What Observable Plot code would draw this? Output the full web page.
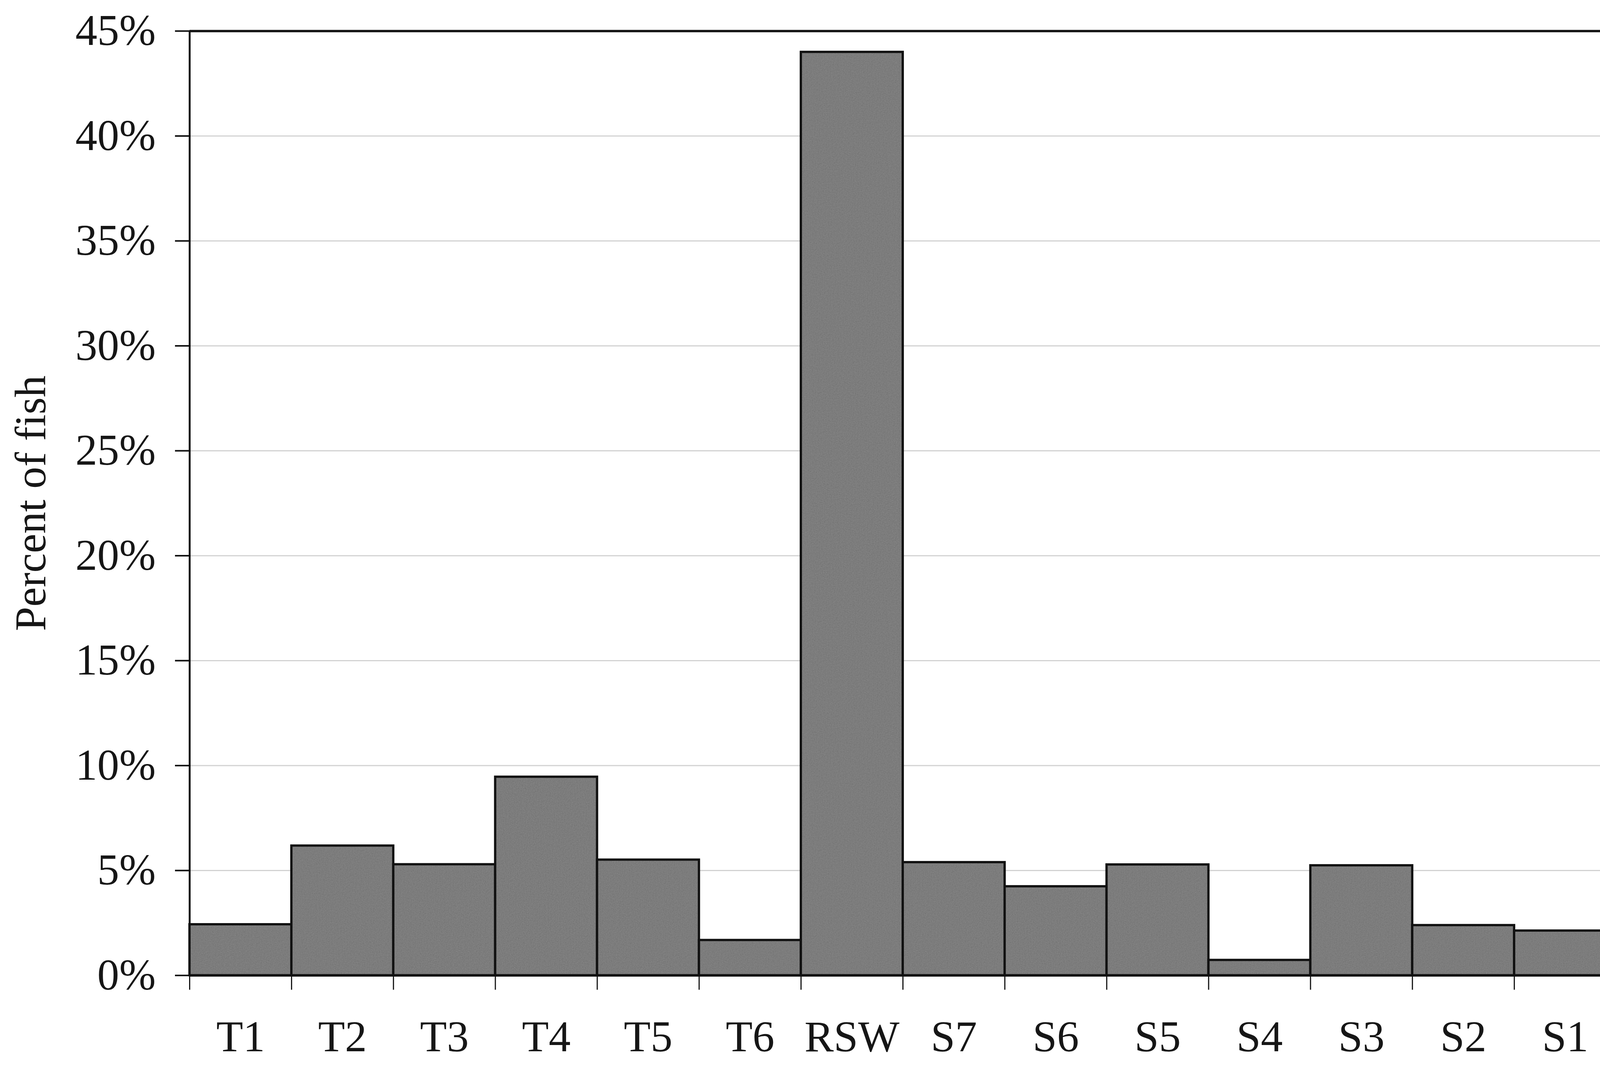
<!DOCTYPE html>
<html><head><meta charset="utf-8">
<script src="https://cdn.jsdelivr.net/npm/d3@7"></script>
<script src="https://cdn.jsdelivr.net/npm/@observablehq/plot@0.6"></script>
<style>html,body{margin:0;padding:0;background:#fff;overflow:hidden}</style>
</head><body><div id="chart"></div>
<script>
const categories = ["T1","T2","T3","T4","T5","T6","RSW","S7","S6","S5","S4","S3","S2","S1"];
const values = [2.43, 6.18, 5.29, 9.46, 5.51, 1.68, 44.0, 5.39, 4.24, 5.28, 0.73, 5.24, 2.39, 2.13];
const yTicks = [0, 5, 10, 15, 20, 25, 30, 35, 40, 45];
const yLabel = "Percent of fish";

const data = categories.map((c, i) => ({cat: c, i0: i, i1: i + 1, value: values[i]}));
const boundaries = d3.range(categories.length + 1);
const centers = categories.map((c, i) => i + 0.5);

const chart = Plot.plot({
  width: 4197, height: 2784,
  marginLeft: 497, marginTop: 81, marginBottom: 227, marginRight: 0,
  style: {fontFamily: "'Liberation Serif', 'Times New Roman', serif", fontSize: "115px", color: "#161616", background: "#fff"},
  x: {type: "linear", domain: [0, categories.length], range: [497, 4239], label: null},
  y: {domain: [0, 45], range: [2557, 81], label: null},
  marks: [
    Plot.gridY(yTicks.filter(t => t > 0 && t < 45), {stroke: "#d2d2d2", strokeOpacity: 1, strokeWidth: 3}),
    Plot.rectY(data, {x1: "i0", x2: "i1", y: "value", fill: "url(#barnoise)", stroke: "#111", strokeWidth: 6}),
    Plot.ruleY([0], {stroke: "#111", strokeWidth: 6}),
    Plot.ruleY([45], {stroke: "#111", strokeWidth: 6}),
    Plot.ruleX([0], {stroke: "#111", strokeWidth: 5}),
    Plot.axisY({ticks: yTicks, tickSize: 38, tickPadding: 51, tickFormat: d => d + "%", label: null, strokeWidth: 4, stroke: "#111"}),
    Plot.text([yLabel], {frameAnchor: "left", rotate: -90, dx: -415, textAnchor: "middle", lineAnchor: "middle", fontSize: 115}),
    Plot.axisX({ticks: boundaries, tickSize: 38, tickFormat: () => "", strokeWidth: 3, stroke: "#111", label: null}),
    Plot.axisX({ticks: centers, tickSize: 0, tickPadding: 117, tickFormat: d => categories[Math.floor(d)], label: null})
  ]
});

// grey speckled fill like the scanned original
const ns = "http://www.w3.org/2000/svg";
const defs = document.createElementNS(ns, "defs");
defs.innerHTML = `
  <filter id="nf" x="0" y="0" width="100%" height="100%">
    <feTurbulence type="fractalNoise" baseFrequency="0.45" numOctaves="2" seed="3"/>
    <feColorMatrix type="matrix" values="0.33 0.33 0.33 0 0  0.33 0.33 0.33 0 0  0.33 0.33 0.33 0 0  0 0 0 0 1"/>
  </filter>
  <pattern id="barnoise" patternUnits="userSpaceOnUse" width="600" height="600">
    <rect width="600" height="600" fill="#5a5a5a"/>
    <rect width="600" height="600" filter="url(#nf)" opacity="0.35"/>
  </pattern>`;
chart.insertBefore(defs, chart.firstChild);
document.getElementById("chart").appendChild(chart);
</script>
</body></html>
